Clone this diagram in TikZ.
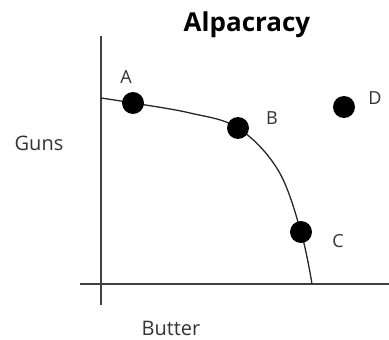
\documentclass[tikz,border=0pt]{standalone}
\usepackage{fontspec}
\setmainfont{Open Sans}
\begin{document}
\begin{tikzpicture}[x=1pt,y=-1pt,
  dot/.style={circle,fill=black,inner sep=0pt,minimum size=22pt},
  lbl/.style={inner sep=0pt,font=\fontsize{18}{21}\selectfont,text=black!80},
  axlbl/.style={inner sep=0pt,font=\fontsize{20}{24}\selectfont,text=black!80},
  axis/.style={line width=1.5pt,black!75}]
\useasboundingbox (0,0) rectangle (389,340);
\coordinate (ytop) at (101,36);
\coordinate (ybot) at (101,305);
\coordinate (xl) at (80,284);
\coordinate (xr) at (389,284);
\draw[axis] (ytop) -- (ybot);
\draw[axis] (xl) -- (xr);
\draw[line width=1.3pt,black!85] plot[smooth,tension=0.6] coordinates {(101,98) (133,103) (190,113) (238,128) (278,170) (301,232) (312,284)};
\node[dot] (A) at (133,103) {};
\node[dot] (B) at (238,128) {};
\node[dot] (C) at (301,232) {};
\node[dot] (D) at (344,107) {};
\node[lbl] (la) at (126,77) {A};
\node[lbl] (lb) at (272,118) {B};
\node[lbl] (lc) at (338,241) {C};
\node[lbl] (ld) at (375,98) {D};
\node[inner sep=0pt,font=\fontsize{26}{30}\selectfont\bfseries] (title) at (247,25) {Alpacracy};
\node[axlbl] (guns) at (39,143) {Guns};
\node[axlbl] (butter) at (171,328) {Butter};
\end{tikzpicture}
\end{document}
